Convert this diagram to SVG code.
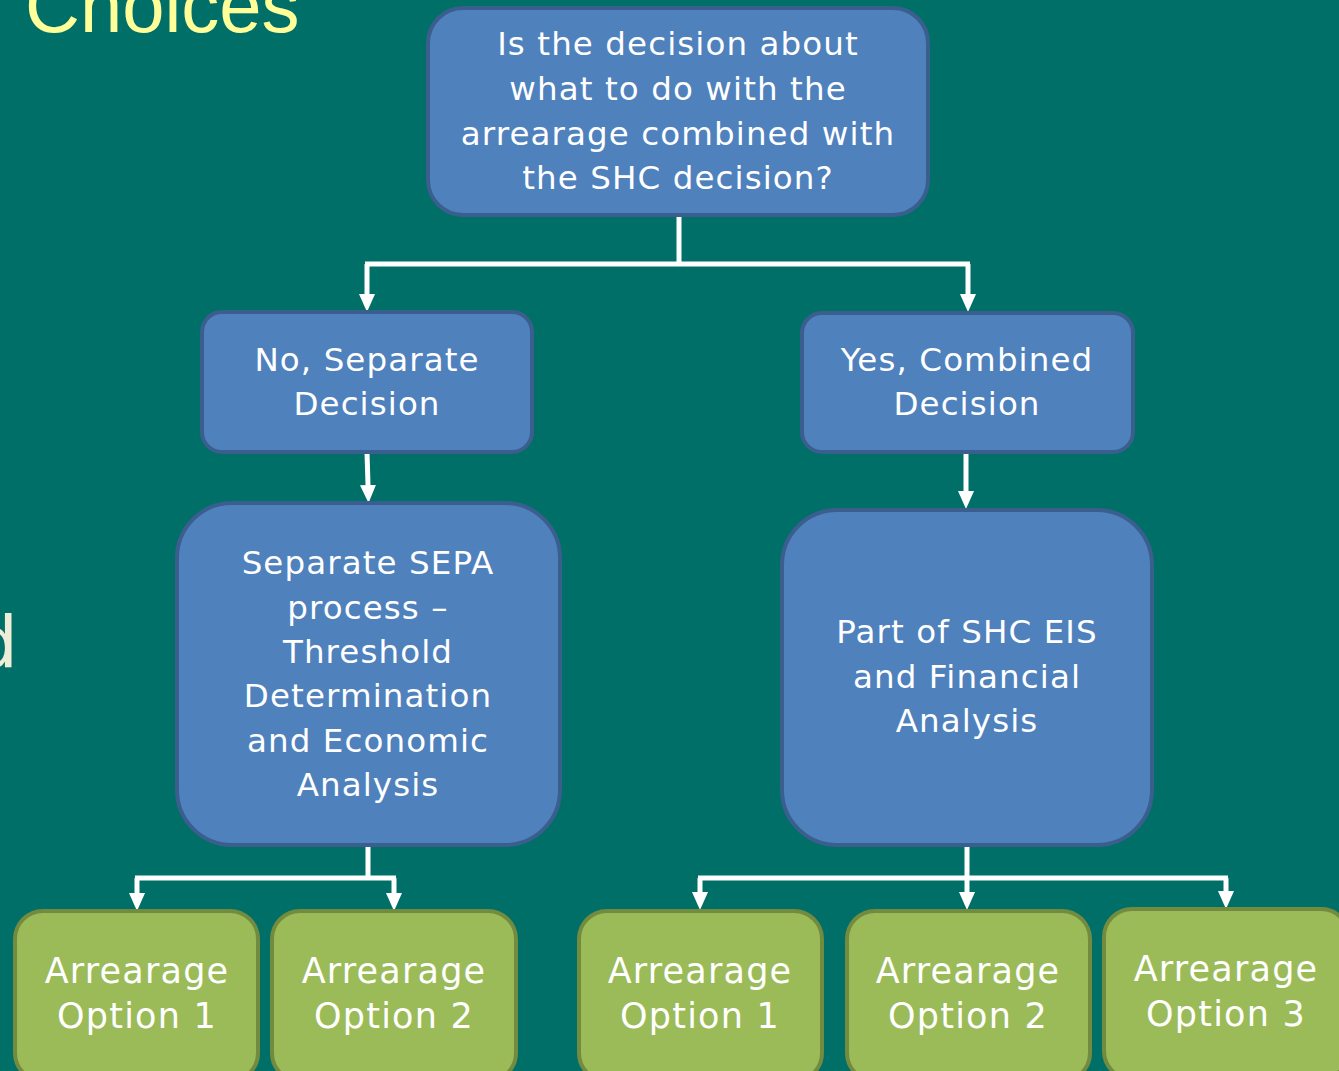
<svg xmlns="http://www.w3.org/2000/svg" width="1339" height="1071" viewBox="0 0 1339 1071">
<style>
.bg{fill:#006F68}
.blue{fill:#4F81BD;stroke:#3A5E8E;stroke-width:4}
.green{fill:#9BBB59;stroke:#738B3E;stroke-width:4}
.t{font-family:"DejaVu Sans",Verdana,sans-serif;fill:#FFFFFF;text-anchor:middle;font-size:32.5px;letter-spacing:1.1px}
.g{font-family:"DejaVu Sans",Verdana,sans-serif;fill:#FFFFFF;text-anchor:middle;font-size:35px;letter-spacing:1.2px}
.c{fill:none;stroke:#FFFFFF;stroke-width:5}
</style>
<defs>
<marker id="arr" viewBox="0 0 18 16" markerWidth="18" markerHeight="16" refX="0" refY="8" orient="auto" markerUnits="userSpaceOnUse">
<path d="M0,0 L18,8 L0,16 Z" fill="#FFFFFF"/>
</marker>
</defs>
<rect class="bg" x="0" y="0" width="1339" height="1071"/>
<text x="25" y="32" font-family="Liberation Sans,Arial,sans-serif" font-size="76" fill="#FFFF99">Choices</text>
<text x="18" y="667" text-anchor="end" font-family="DejaVu Sans,sans-serif" font-size="72" fill="#EEEDD8">d</text>

<g id="connectors">
<path class="c" d="M679,215 V264 M365,264 H970"/>
<path class="c" d="M367,264 V294" marker-end="url(#arr)"/>
<path class="c" d="M968,264 V294" marker-end="url(#arr)"/>
<path class="c" d="M367,452 L368,485" marker-end="url(#arr)"/>
<path class="c" d="M966,452 V491" marker-end="url(#arr)"/>
<path class="c" d="M368,845 V878 M135,878 H396"/>
<path class="c" d="M137,878 V893" marker-end="url(#arr)"/>
<path class="c" d="M394,878 V893" marker-end="url(#arr)"/>
<path class="c" d="M698,878 H1228"/>
<path class="c" d="M967,845 V892" marker-end="url(#arr)"/>
<path class="c" d="M700,878 V892" marker-end="url(#arr)"/>
<path class="c" d="M1226,878 V891" marker-end="url(#arr)"/>
</g>

<g id="n-question">
<rect class="blue" x="428" y="8" width="500" height="207" rx="35"/>
<text class="t" x="678" y="55">Is the decision about</text>
<text class="t" x="678" y="100">what to do with the</text>
<text class="t" x="678" y="145">arrearage combined with</text>
<text class="t" x="678" y="189">the SHC decision?</text>
</g>

<g id="n-no">
<rect class="blue" x="202" y="312" width="330" height="140" rx="20"/>
<text class="t" x="367" y="371">No, Separate</text>
<text class="t" x="367" y="415">Decision</text>
</g>

<g id="n-yes">
<rect class="blue" x="802" y="313" width="331" height="139" rx="20"/>
<text class="t" x="967" y="371">Yes, Combined</text>
<text class="t" x="967" y="415">Decision</text>
</g>

<g id="n-sepa">
<rect class="blue" x="177" y="503" width="383" height="342" rx="55"/>
<text class="t" x="368" y="574">Separate SEPA</text>
<text class="t" x="368" y="619">process –</text>
<text class="t" x="368" y="663">Threshold</text>
<text class="t" x="368" y="707">Determination</text>
<text class="t" x="368" y="752">and Economic</text>
<text class="t" x="368" y="796">Analysis</text>
</g>

<g id="n-eis">
<rect class="blue" x="782" y="510" width="370" height="335" rx="55"/>
<text class="t" x="967" y="643">Part of SHC EIS</text>
<text class="t" x="967" y="688">and Financial</text>
<text class="t" x="967" y="732">Analysis</text>
</g>

<g id="n-l1">
<rect class="green" x="15" y="911" width="243" height="170" rx="28"/>
<text class="g" x="137" y="983">Arrearage</text>
<text class="g" x="137" y="1028">Option 1</text>
</g>
<g id="n-l2">
<rect class="green" x="272" y="911" width="244" height="170" rx="28"/>
<text class="g" x="394" y="983">Arrearage</text>
<text class="g" x="394" y="1028">Option 2</text>
</g>
<g id="n-r1">
<rect class="green" x="579" y="911" width="243" height="170" rx="28"/>
<text class="g" x="700" y="983">Arrearage</text>
<text class="g" x="700" y="1028">Option 1</text>
</g>
<g id="n-r2">
<rect class="green" x="847" y="911" width="243" height="170" rx="28"/>
<text class="g" x="968" y="983">Arrearage</text>
<text class="g" x="968" y="1028">Option 2</text>
</g>
<g id="n-r3">
<rect class="green" x="1104" y="909" width="245" height="170" rx="28"/>
<text class="g" x="1226" y="981">Arrearage</text>
<text class="g" x="1226" y="1026">Option 3</text>
</g>
</svg>
